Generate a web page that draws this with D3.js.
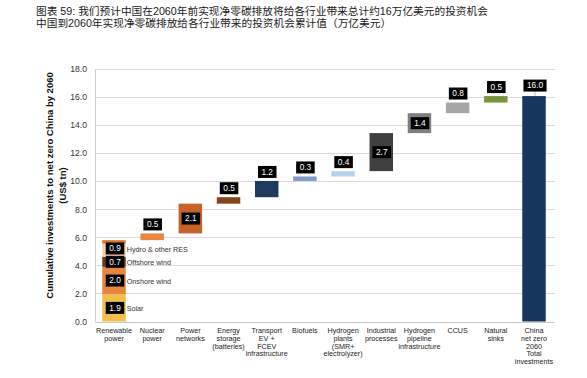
<!DOCTYPE html>
<html>
<head>
<meta charset="utf-8">
<script src="https://cdn.jsdelivr.net/npm/d3@7"></script>
<style>
  html, body { margin: 0; padding: 0; background: #fff; }
  svg { display: block; }
</style>
</head>
<body>
<div id="chart"></div>
<script>
// ---------- data ----------
const titleLines = [
  "图表 59: 我们预计中国在2060年前实现净零碳排放将给各行业带来总计约16万亿美元的投资机会",
  "中国到2060年实现净零碳排放给各行业带来的投资机会累计值（万亿美元）"
];
const yTitleLines = ["Cumulative investments to net zero China by 2060", "(US$ tn)"];

const categories = [
  "Renewable power", "Nuclear power", "Power networks", "Energy storage (batteries)",
  "Transport EV + FCEV infrastructure", "Biofuels", "Hydrogen plants (SMR+ electrolyzer)",
  "Industrial processes", "Hydrogen pipeline infrastructure", "CCUS", "Natural sinks",
  "China net zero 2060 Total investments"
];
const categoryLines = [
  ["Renewable", "power"], ["Nuclear", "power"], ["Power", "networks"],
  ["Energy", "storage", "(batteries)"], ["Transport", "EV +", "FCEV", "infrastructure"],
  ["Biofuels"], ["Hydrogen", "plants", "(SMR+", "electrolyzer)"],
  ["Industrial", "processes"], ["Hydrogen", "pipeline", "infrastructure"], ["CCUS"],
  ["Natural", "sinks"], ["China", "net zero", "2060", "Total", "investments"]
];

// Renewable power stack (bottom to top)
const renewableNames  = ["Solar", "Onshore wind", "Offshore wind", "Hydro & other RES", ""];
const renewableValues = [1.94, 1.96, 0.71, 0.94, 0.25];
const renewableLabels = ["1.9", "2.0", "0.7", "0.9", ""];
const renewableColors = ["#F2C04A", "#E8853E", "#6A3A1C", "#F8D0B0", "#DD7834"];

// Waterfall steps (Nuclear .. Natural sinks)
const stepValues = [0.48, 2.12, 0.46, 1.16, 0.32, 0.38, 2.71, 1.42, 0.76, 0.46];
const stepLabels = ["0.5", "2.1", "0.5", "1.2", "0.3", "0.4", "2.7", "1.4", "0.8", "0.5"];
const stepColors = ["#E8853E", "#C6622A", "#84441C", "#1F3A5F", "#7F9DC6", "#B6D4EE",
                    "#404040", "#7F7F7F", "#A6A6A6", "#77933C"];
const stepInside = [false, true, false, false, false, false, true, true, false, false];

const totalLabel = "16.0";
const totalColor = "#17365D";

const yTicks = [0, 2, 4, 6, 8, 10, 12, 14, 16, 18];

// ---------- drawing ----------
const W = 587, H = 378;
const svg = d3.select("#chart").append("svg").attr("width", W).attr("height", H);
const latin = "'Liberation Sans', Arial, Helvetica, sans-serif";

const x = d3.scaleBand().domain(categories).range([95, 553])
  .paddingInner(0.385).paddingOuter(0.19);
const y = d3.scaleLinear().domain([0, 18]).range([321.5, 69]);

// title
svg.append("g").selectAll("text").data(titleLines).join("text")
  .attr("x", 36).attr("y", (d, i) => 15 + i * 12.3)
  .attr("font-family", "'Liberation Sans', 'Noto Sans CJK SC', sans-serif")
  .attr("font-size", 10.7).attr("fill", "#1a1a1a")
  .text(d => d);

// grid
svg.append("g").selectAll("line").data(yTicks.filter(t => t > 0)).join("line")
  .attr("x1", 95).attr("x2", 555)
  .attr("y1", d => Math.round(y(d)) + 0.5).attr("y2", d => Math.round(y(d)) + 0.5)
  .attr("stroke", "#D9D9D9").attr("stroke-width", 1);

// axes lines
svg.append("line").attr("x1", 95.5).attr("x2", 95.5).attr("y1", y(18)).attr("y2", y(0))
  .attr("stroke", "#D0D0D0");
svg.append("line").attr("x1", 95).attr("x2", 555).attr("y1", Math.round(y(0)) + 0.5).attr("y2", Math.round(y(0)) + 0.5)
  .attr("stroke", "#C8C8C8");

// y tick labels
const yAxis = d3.axisLeft(y).tickValues(yTicks).tickFormat(d3.format(".1f")).tickSize(0).tickPadding(0);
const gy = svg.append("g").attr("transform", "translate(87,0)").call(yAxis);
gy.select(".domain").remove();
gy.selectAll("text").attr("font-family", latin).attr("font-size", 8.6).attr("fill", "#333");

// y title
const yt = svg.append("g").attr("transform", "translate(0,185.5) rotate(-90)");
yt.selectAll("text").data(yTitleLines).join("text")
  .attr("x", 0).attr("y", (d, i) => 52.5 + i * 13)
  .attr("text-anchor", "middle")
  .attr("font-family", latin).attr("font-size", 9.5).attr("font-weight", "bold").attr("fill", "#111")
  .text(d => d);

// category labels
const gx = svg.append("g");
categories.forEach((c, i) => {
  const t = gx.append("text")
    .attr("text-anchor", "middle")
    .attr("font-family", latin).attr("font-size", 7.2).attr("fill", "#222");
  categoryLines[i].forEach((ln, j) => {
    t.append("tspan").attr("x", x(c) + x.bandwidth() / 2).attr("y", 333.3 + j * 7.7).text(ln);
  });
});

// label box helper
function labelBox(cx, cy, txt) {
  const g = svg.append("g");
  const t = g.append("text").attr("x", cx).attr("y", cy).attr("dy", "0.35em")
    .attr("text-anchor", "middle").attr("font-family", latin)
    .attr("font-size", 8.3).attr("fill", "#fff").text(txt);
  const bw = t.node().getComputedTextLength() + 7;
  g.insert("rect", "text").attr("x", cx - bw / 2).attr("y", cy - 6)
    .attr("width", bw).attr("height", 12).attr("fill", "#000");
}

// renewable stack
const rc = categories[0];
const rx = x(rc), bw = x.bandwidth();
let cum = 0;
const renSegs = renewableValues.map((v, i) => {
  const s = { y0: cum, y1: cum + v, i };
  cum += v;
  return s;
});
svg.append("g").selectAll("rect").data(renSegs).join("rect")
  .attr("x", rx).attr("width", bw)
  .attr("y", d => y(d.y1)).attr("height", d => y(d.y0) - y(d.y1))
  .attr("fill", d => renewableColors[d.i]);
renSegs.forEach(s => {
  if (!renewableLabels[s.i]) return;
  let top = s.y1;
  if (s.i === 3) top = renSegs[4].y1; // hydro & other share one label
  const cy = (y(s.y0) + y(top)) / 2;
  labelBox(rx + bw / 2 + 1, cy, renewableLabels[s.i]);
  svg.append("text").attr("x", rx + bw + 1).attr("y", cy + 1).attr("dy", "0.35em")
    .attr("font-family", latin).attr("font-size", 7.2).attr("fill", "#333")
    .text(renewableNames[s.i]);
});

// waterfall steps
const steps = stepValues.map((v, i) => {
  const s = { y0: cum, y1: cum + v, i, cat: categories[i + 1] };
  cum += v;
  return s;
});
svg.append("g").selectAll("rect").data(steps).join("rect")
  .attr("x", d => x(d.cat)).attr("width", bw)
  .attr("y", d => y(d.y1)).attr("height", d => y(d.y0) - y(d.y1))
  .attr("fill", d => stepColors[d.i]);
steps.forEach(s => {
  const cx = x(s.cat) + bw / 2 + 0.5;
  if (stepInside[s.i]) {
    labelBox(cx, (y(s.y0) + y(s.y1)) / 2, stepLabels[s.i]);
  } else {
    labelBox(cx, y(s.y1) - 9, stepLabels[s.i]);
  }
});

// total bar
const tc = categories[categories.length - 1];
const total = cum;
svg.append("rect").attr("x", x(tc)).attr("width", bw)
  .attr("y", y(total)).attr("height", y(0) - y(total)).attr("fill", totalColor);
svg.append("line").attr("x1", x(tc) + bw / 2 + 1).attr("x2", x(tc) + bw / 2 + 1)
  .attr("y1", y(total) - 5).attr("y2", y(total)).attr("stroke", "#BBBBBB");
labelBox(x(tc) + bw / 2 + 1, y(total) - 10.5, totalLabel);
</script>
</body>
</html>
